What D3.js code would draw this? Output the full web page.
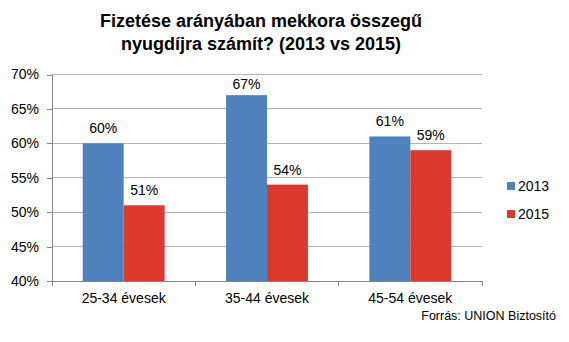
<!DOCTYPE html>
<html>
<head>
<meta charset="utf-8">
<script src="https://cdn.jsdelivr.net/npm/d3@7"></script>
<style>
  html, body { margin: 0; padding: 0; background: #fff; }
  svg { display: block; font-family: "Liberation Sans", Arial, sans-serif; }
</style>
</head>
<body>
<svg id="chart" width="569" height="342"></svg>
<script>
// Age groups and survey results (share of respondents, %)
const categories = ["25-34 évesek", "35-44 évesek", "45-54 évesek"];
const seriesNames = ["2013", "2015"];
const values2013 = [60, 67, 61];
const values2015 = [51, 54, 59];
const yTicks = [40, 45, 50, 55, 60, 65, 70];
const titleLines = ["Fizetése arányában mekkora összegű", "nyugdíjra számít? (2013 vs 2015)"];
const sourceText = "Forrás: UNION Biztosító";

const colors = { "2013": "#4f81bd", "2015": "#dc3a2f" };
const seriesValues = { "2013": values2013, "2015": values2015 };

const svg = d3.select("#chart");
const plot = { left: 52, right: 482, top: 74.5, bottom: 281 };

const x = d3.scaleBand().domain(categories).range([plot.left, plot.right]).paddingInner(0).paddingOuter(0);
const xInner = d3.scaleBand().domain(seriesNames).range([0, x.bandwidth()]).paddingInner(0).paddingOuter(0.75);
const y = d3.scaleLinear().domain([40, 70]).range([plot.bottom, plot.top]);

// Title
svg.append("g").selectAll("text").data(titleLines).join("text")
  .attr("x", 261).attr("y", (d, i) => 27 + i * 23)
  .attr("text-anchor", "middle")
  .attr("font-size", 18).attr("font-weight", "bold").attr("fill", "#000")
  .text(d => d);

// Horizontal gridlines
svg.append("g").selectAll("line").data(yTicks.filter(t => t !== 40)).join("line")
  .attr("x1", plot.left).attr("x2", plot.right)
  .attr("y1", d => y(d)).attr("y2", d => y(d))
  .attr("stroke", "#b3b3b3").attr("stroke-width", 1).attr("shape-rendering", "crispEdges");

// Y axis
const yAxis = d3.axisLeft(y).tickValues(yTicks).tickSize(5).tickPadding(8).tickFormat(d => d + "%");
const gy = svg.append("g").attr("transform", `translate(${plot.left},0)`).call(yAxis);
gy.select(".domain").attr("stroke", "#868686").attr("shape-rendering", "crispEdges");
gy.selectAll(".tick line").attr("stroke", "#868686").attr("shape-rendering", "crispEdges");
gy.selectAll(".tick text").attr("font-size", 14).attr("fill", "#000").attr("font-family", "Liberation Sans, Arial, sans-serif");

// Bars
const groups = svg.append("g").selectAll("g").data(categories).join("g")
  .attr("transform", d => `translate(${x(d)},0)`);

groups.selectAll("rect").data((d, i) => seriesNames.map(s => ({ s, v: seriesValues[s][i] }))).join("rect")
  .attr("x", d => xInner(d.s))
  .attr("width", xInner.bandwidth())
  .attr("y", d => y(d.v))
  .attr("height", d => y(40) - y(d.v))
  .attr("fill", d => colors[d.s]);

// Value labels (kept inside the plot area near the top)
groups.selectAll("text").data((d, i) => seriesNames.map(s => ({ s, v: seriesValues[s][i] }))).join("text")
  .attr("x", d => xInner(d.s) + xInner.bandwidth() / 2)
  .attr("y", d => Math.max(y(d.v) - 10, plot.top + 14.5))
  .attr("text-anchor", "middle")
  .attr("font-size", 14).attr("fill", "#000")
  .text(d => d.v + "%");

// X axis
const xAxis = d3.axisBottom(x).tickSize(0).tickPadding(12);
const gx = svg.append("g").attr("transform", `translate(0,${plot.bottom})`).call(xAxis);
gx.select(".domain").attr("stroke", "#868686").attr("shape-rendering", "crispEdges");
gx.selectAll(".tick text").attr("font-size", 14).attr("fill", "#000").attr("font-family", "Liberation Sans, Arial, sans-serif");
// Category separator ticks
gx.append("g").selectAll("line").data(d3.range(categories.length + 1)).join("line")
  .attr("x1", i => plot.left + i * x.bandwidth()).attr("x2", i => plot.left + i * x.bandwidth())
  .attr("y1", 0).attr("y2", 5)
  .attr("stroke", "#868686").attr("shape-rendering", "crispEdges");

// Legend
const legend = svg.append("g").selectAll("g").data(seriesNames).join("g")
  .attr("transform", (d, i) => `translate(507,${182 + i * 28})`);
legend.append("rect").attr("width", 8).attr("height", 8).attr("fill", d => colors[d]);
legend.append("text").attr("x", 11).attr("y", 9).attr("font-size", 14).attr("fill", "#000").text(d => d);

// Source
svg.append("text").attr("x", 556).attr("y", 320).attr("text-anchor", "end")
  .attr("font-size", 12.5).attr("fill", "#000").text(sourceText);
</script>
</body>
</html>
